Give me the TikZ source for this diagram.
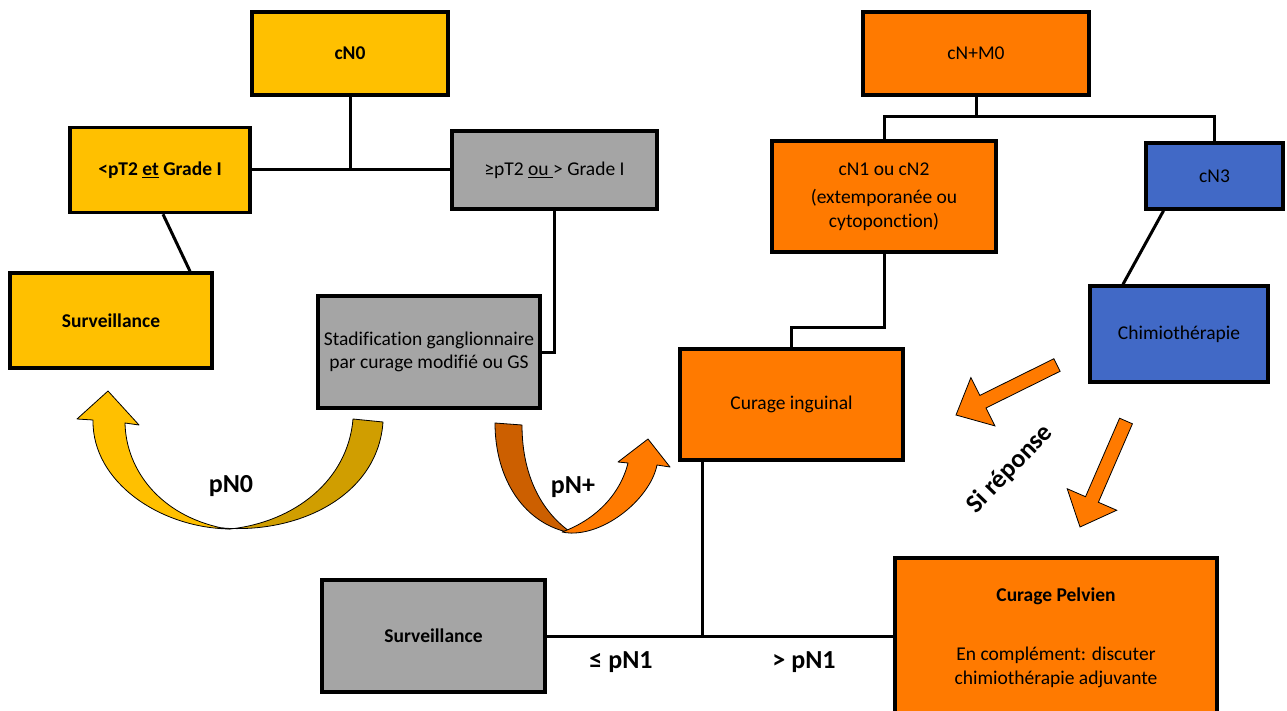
\documentclass[tikz,border=0pt]{standalone}
\usepackage{fontspec}
\setmainfont{Carlito}[Ligatures=NoCommon]
\usepackage{tikz}
\usetikzlibrary{
  calc,
  positioning,
}

\definecolor{boxyellow}{HTML}{FFC000}
\definecolor{boxgray}{HTML}{A5A5A5}
\definecolor{boxorange}{HTML}{FF7A00}
\definecolor{boxblue}{HTML}{4169C6}
\definecolor{golddark}{HTML}{D09E00}
\definecolor{orangedark}{HTML}{CC5F00}

% straight block arrow: tail, tip
\newcommand{\blockarrow}[2]{%
  \coordinate (ba-h) at ($(#2)!30pt!(#1)$);
  \filldraw[fill=boxorange, line width=0.8pt]
    ($(#1)!7pt!90:(#2)$) -- ($(ba-h)!7pt!-90:(#1)$) -- ($(ba-h)!27pt!-90:(#1)$)
    -- (#2) -- ($(ba-h)!27pt!90:(#1)$) -- ($(ba-h)!7pt!90:(#1)$)
    -- ($(#1)!7pt!-90:(#2)$) -- cycle;}

\begin{document}
\begin{tikzpicture}[
  x=1pt, y=-1pt,  % 1pt = 1px, y grows downwards
  font=\fontsize{19.5}{23.5}\selectfont,
  box/.style={draw, line width=3.5pt, align=center, inner sep=0pt},
  link/.style={line width=3pt},
  biglabel/.style={font=\fontsize{26}{30}\selectfont\bfseries},
  ribbon/.style={draw, line width=0.8pt, line join=round},
]
  \useasboundingbox (0,0) rectangle (1287,711);

  % cN0 branch
  \node[box, fill=boxyellow, minimum width=196pt, minimum height=83pt] (cn0) at (350,53.5) {\textbf{cN0}};
  \node[box, fill=boxyellow, minimum width=180pt, minimum height=85pt] (ptlow) at (160,170) {\textbf{<pT2 \underline{et} Grade I}};
  \node[box, fill=boxgray, minimum width=205pt, minimum height=78pt] (pthigh) at (554.5,170) {≥pT2 \underline{ou\ }> Grade I};
  \node[box, fill=boxyellow, minimum width=202pt, minimum height=95pt] (survA) at (111,320.5) {\textbf{Surveillance}};
  \node[box, fill=boxgray, minimum width=222pt, minimum height=112pt] (stad) at (429,352) {Stadification ganglionnaire\\par curage modifié ou GS};

  \coordinate (barA) at (cn0 |- ptlow);
  \draw[link] (cn0.south) -- (barA);
  \draw[link] (ptlow.east) -- (pthigh.west);
  \draw[link] ($(ptlow.south)+(3,0)$) -- ($(survA.north)+(79,0)$);
  \draw[link] (pthigh.south) |- (stad.east);

  % cN+ branch
  \node[box, fill=boxorange, minimum width=226pt, minimum height=83pt] (cnm0) at (976,53.5) {cN+M0};
  \node[box, fill=boxorange, minimum width=224pt, minimum height=111pt] (cn12) at (884,196.5) {cN1 ou cN2\\[5pt](extemporanée ou\\cytoponction)};
  \node[box, fill=boxblue, minimum width=137pt, minimum height=66pt] (cn3) at (1214.5,176) {cN3};
  \node[box, fill=boxblue, minimum width=178pt, minimum height=96pt] (chimio) at (1179,334) {Chimiothérapie};
  \node[box, fill=boxorange, minimum width=223pt, minimum height=111pt] (inguinal) at (791.5,404.5) {Curage inguinal};

  \coordinate (barB) at (976,117);
  \draw[link] (cnm0.south) -- (barB);
  \draw[link] (cn12.north) |- (barB) -| (cn3.north);
  \draw[link] ($(cn3.south)+(-51,0)$) -- ($(chimio.north)+(-56,0)$);
  \draw[link] (cn12.south) -- ++(0,74) -| (inguinal.north);

  % bottom row
  \node[box, fill=boxgray, minimum width=223pt, minimum height=112pt] (survB) at (433.5,636) {\textbf{Surveillance}};
  \node[box, fill=boxorange, minimum width=322pt, minimum height=159pt] (pelvien) at (1056,637.5) {\textbf{Curage Pelvien}\\[36pt]En complément: discuter\\chimiothérapie adjuvante};

  \coordinate (fork) at (702,636);
  \draw[link] (inguinal.south -| fork) -- (fork);
  \draw[link] (survB.east) -- (survB.east -| pelvien.west);

  % curved arrows
  \filldraw[ribbon, fill=golddark]
    (222,528) .. controls (300,534) and (378,495) .. (383,422) -- (353,419)
    .. controls (348,480) and (295,522) .. (230,529) -- cycle;
  \filldraw[ribbon, fill=boxyellow]
    (230,529) .. controls (160,528) and (92,482) .. (93,420) -- (77,419) -- (108,391)
    -- (139,425) -- (125,423) .. controls (126,470) and (160,515) .. (222,528) -- cycle;

  \filldraw[ribbon, fill=orangedark]
    (495,423) .. controls (495,480) and (525,525) .. (572,533)
    .. controls (545,515) and (522,480) .. (522,425) -- cycle;
  \filldraw[ribbon, fill=boxorange]
    (562,532) .. controls (600,540) and (650,500) .. (657,465) -- (670,467) -- (648,439)
    -- (618,462) -- (628,463) .. controls (620,495) and (595,520) .. (562,532) -- cycle;

  % block arrows
  \coordinate (arrA-tail) at (1057,365);
  \coordinate (arrA-tip) at (956,415);
  \coordinate (arrB-tail) at (1126,421);
  \coordinate (arrB-tip) at (1080,527);
  \blockarrow{arrA-tail}{arrA-tip}
  \blockarrow{arrB-tail}{arrB-tip}

  % labels
  \node[biglabel] (lblpn0) at (231,486) {pN0};
  \node[biglabel] (lblpnp) at (573,487) {pN+};
  \node[biglabel] (lblle) at (621,662) {≤ pN1};
  \node[biglabel] (lblgt) at (804,662) {> pN1};
  \node[biglabel, rotate=46] (lblsi) at (1010,469) {Si réponse};

\end{tikzpicture}
\end{document}
